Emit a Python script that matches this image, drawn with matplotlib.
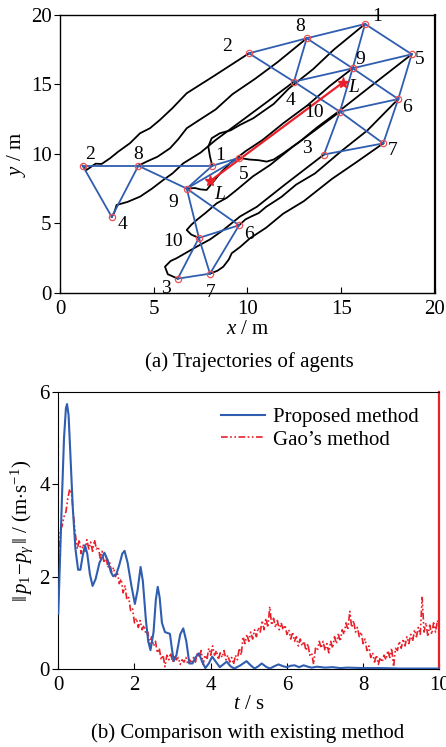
import numpy as np
import matplotlib
matplotlib.use("Agg")
import matplotlib.pyplot as plt

plt.rcParams['font.family'] = ['Liberation Serif', 'DejaVu Serif']
plt.rcParams['mathtext.fontset'] = 'custom'
plt.rcParams['mathtext.rm'] = 'Liberation Serif'
plt.rcParams['mathtext.it'] = 'Liberation Serif:italic'
plt.rcParams['mathtext.cal'] = 'Liberation Serif:italic'

# ---------------- data: top panel ----------------
agents = ['1', '2', '3', '4', '5', '6', '7', '8', '9', '10']
init_x = [8.12, 1.21, 6.28, 2.76, 9.56, 9.55, 8.00, 4.18, 6.76, 7.41]
init_y = [9.15, 9.15, 1.03, 5.47, 9.72, 4.87, 1.39, 9.15, 7.51, 3.96]
final_x = [16.27, 10.08, 14.08, 12.48, 18.76, 18.04, 17.24, 13.16, 15.61, 14.93]
final_y = [19.35, 17.24, 9.96, 15.20, 17.17, 13.95, 10.76, 18.32, 16.16, 13.04]
leader_x = [8.00, 15.08]
leader_y = [8.04, 15.13]

edges_init = [(2, 8), (8, 1), (1, 5), (2, 4), (4, 8), (8, 9), (9, 1), (9, 5),
              (9, 6), (9, 10), (10, 7), (10, 6), (10, 3), (3, 7), (6, 7)]
edges_final = [(2, 8), (8, 1), (1, 5), (8, 4), (2, 4), (4, 10), (10, 7), (8, 9),
               (9, 6), (4, 9), (9, 5), (1, 9), (9, 10), (10, 3), (10, 6), (6, 5),
               (6, 7), (3, 7)]

# intermediate trajectory waypoints (between initial and final positions)
traj_x = {
    '1': [8.00, 7.91, 8.09, 8.53, 9.10, 9.60, 10.31, 11.4, 12.2, 13.5, 14.6],
    '2': [1.42, 1.90, 2.22, 2.67, 3.11, 3.73, 4.27, 4.80, 5.33, 6.00, 6.76, 8.2],
    '3': [5.75, 5.60, 5.90, 6.22, 6.80, 7.29, 8.00, 8.71, 9.6, 10.5, 12.0],
    '4': [2.90, 3.02, 3.60, 4.27, 4.90, 5.51, 6.00, 6.58, 7.5, 8.3, 9.6, 11.0],
    '5': [10.10, 10.60, 11.02, 11.40, 11.91, 12.8, 13.7, 15.0, 16.6],
    '6': [9.90, 10.20, 10.60, 11.00, 11.80, 12.6, 13.6, 15.0, 16.4],
    '7': [8.40, 8.71, 9.00, 9.16, 9.60, 10.13, 11.0, 11.9, 13.0, 14.5, 15.8],
    '8': [4.62, 5.20, 5.87, 6.30, 6.76, 7.29, 8.3, 9.2, 10.4, 11.6],
    '9': [7.20, 7.50, 7.82, 8.18, 8.60, 9.07, 9.9, 10.8, 11.9, 13.2, 14.4],
    '10': [7.00, 6.76, 7.00, 7.29, 7.80, 8.36, 8.90, 9.42, 10.3, 11.2, 12.4, 13.6],
}
traj_y = {
    '1': [9.81, 10.53, 11.13, 11.49, 11.70, 12.09, 12.57, 13.6, 14.7, 16.1, 17.5],
    '2': [8.85, 9.30, 9.28, 9.69, 10.17, 10.77, 11.49, 11.85, 12.45, 13.3, 14.37, 15.6],
    '3': [1.35, 1.89, 2.30, 2.50, 2.95, 3.33, 3.85, 4.53, 5.5, 6.2, 7.8],
    '4': [5.80, 6.33, 6.55, 6.93, 7.50, 8.13, 8.60, 9.33, 10.1, 11.0, 12.3, 13.7],
    '5': [9.60, 9.55, 9.45, 9.60, 10.05, 10.9, 11.9, 13.2, 14.9],
    '6': [5.30, 5.50, 5.75, 6.20, 6.90, 7.8, 8.6, 10.2, 11.7],
    '7': [1.60, 1.89, 2.40, 2.86, 3.30, 3.93, 4.7, 5.7, 6.6, 8.2, 9.4],
    '8': [9.45, 9.80, 10.41, 11.05, 11.85, 12.32, 13.2, 14.3, 15.4, 16.6],
    '9': [7.55, 7.45, 7.41, 8.01, 8.70, 9.33, 10.2, 11.0, 12.2, 13.5, 14.9],
    '10': [4.20, 4.53, 4.90, 5.25, 5.80, 6.45, 6.85, 7.41, 8.4, 9.2, 10.5, 11.7],
}

# ---------------- data: bottom panel ----------------
t_prop = [0.00, 0.05, 0.10, 0.15, 0.20, 0.23, 0.27, 0.32, 0.38, 0.45, 0.52, 0.58,
          0.64, 0.70, 0.76, 0.83, 0.90, 0.98, 1.08, 1.21, 1.30, 1.38, 1.44, 1.52,
          1.60, 1.68, 1.74, 1.82, 1.92, 2.01, 2.08, 2.16, 2.22, 2.30, 2.36, 2.42,
          2.50, 2.56, 2.61, 2.66, 2.72, 2.80, 2.87, 2.93, 2.98, 3.03, 3.10, 3.20,
          3.28, 3.36, 3.44, 3.52, 3.60, 3.69, 3.78, 3.86, 3.95, 4.04, 4.14, 4.24,
          4.33, 4.42, 4.52, 4.62, 4.78, 4.94, 5.05, 5.15, 5.25, 5.34, 5.45, 5.55,
          5.67, 5.78, 5.90, 6.00, 6.10, 6.20, 6.32, 6.44, 6.55, 6.65, 6.79, 7.00,
          7.20, 7.40, 7.60, 8.00, 8.50, 9.00, 9.50, 10.00]
v_prop = [1.20, 2.50, 3.80, 5.00, 5.65, 5.74, 5.50, 4.60, 3.50, 2.60, 2.15, 2.15,
          2.45, 2.68, 2.50, 2.05, 1.80, 1.95, 2.30, 2.52, 2.35, 2.10, 2.01, 2.05,
          2.25, 2.50, 2.56, 2.30, 1.80, 1.41, 1.70, 2.21, 1.90, 1.05, 0.60, 0.41,
          0.80, 1.50, 1.78, 1.55, 1.00, 0.80, 0.78, 0.76, 0.45, 0.17, 0.30, 0.75,
          0.88, 0.60, 0.12, 0.12, 0.25, 0.34, 0.15, 0.02, 0.12, 0.27, 0.15, 0.04,
          0.10, 0.16, 0.06, 0.01, 0.08, 0.17, 0.08, 0.01, 0.06, 0.12, 0.05, 0.01,
          0.06, 0.10, 0.06, 0.04, 0.07, 0.08, 0.04, 0.08, 0.05, 0.03, 0.05, 0.03,
          0.04, 0.02, 0.03, 0.02, 0.02, 0.01, 0.01, 0.01]

v_gao = [1.5, 3.0, 3.1, 3.3, 3.4, 3.7, 3.9, 3.8, 3.3, 2.9,
         2.6, 2.8, 2.5, 2.7, 2.55, 2.8, 2.6, 2.75, 2.55, 2.8,
         2.6, 2.65, 2.4, 2.55, 2.3, 2.45, 2.2, 2.3, 2.1, 2.2,
         2.0, 2.1, 1.85, 1.95, 1.65, 1.8, 1.5, 1.55, 1.25, 1.3,
         1.0, 1.1, 0.9, 1.05, 0.85, 0.95, 0.75, 0.8, 0.55, 0.7,
         0.5, 0.6, 0.35, 0.45, 0.2, 0.3, 0.05, 0.3, 0.2, 0.35,
         0.15, 0.3, 0.2, 0.25, 0.1, 0.2, 0.15, 0.25, 0.1, 0.2,
         0.12, 0.25, 0.15, 0.35, 0.25, 0.4, 0.1, 0.3, 0.2, 0.45,
         0.3, 0.5, 0.3, 0.4, 0.2, 0.35, 0.25, 0.4, 0.2, 0.3,
         0.15, 0.25, 0.1, 0.3, 0.2, 0.45, 0.3, 0.7, 0.55, 0.75,
         0.6, 0.8, 0.65, 0.85, 0.7, 0.9, 0.8, 1.05, 0.85, 1.1,
         0.9, 1.35, 0.95, 1.1, 0.9, 1.05, 0.85, 1.0, 0.85, 0.95,
         0.75, 0.85, 0.65, 0.8, 0.6, 0.7, 0.5, 0.65, 0.5, 0.6,
         0.4, 0.55, 0.3, 0.35, 0.1, 0.45, 0.4, 0.6, 0.45, 0.6,
         0.4, 0.55, 0.35, 0.6, 0.45, 0.7, 0.55, 0.75, 0.6, 0.85,
         0.75, 1.0, 0.85, 1.25, 0.9, 1.05, 0.8, 0.9, 0.7, 0.8,
         0.55, 0.65, 0.4, 0.5, 0.25, 0.35, 0.15, 0.3, 0.1, 0.25,
         0.15, 0.3, 0.2, 0.4, 0.25, 0.45, 0.05, 0.45, 0.4, 0.6,
         0.45, 0.65, 0.5, 0.7, 0.55, 0.75, 0.6, 0.85, 0.7, 0.9,
         0.75, 1.55, 0.8, 1.0, 0.7, 0.95, 0.75, 1.0, 0.8, 1.05,
         0.9]
t_gao = np.linspace(0, 10, len(v_gao))

legend_labels = ['Proposed method', 'Gao\u2019s method']

# ---------------- figure ----------------
FS = 15
blue = '#2f5db0'
red = '#e8202a'
fig = plt.figure(figsize=(4.46, 7.47), dpi=100)
ax1 = fig.add_axes([0.1345, 0.6078, 0.8408, 0.3722])
ax2 = fig.add_axes([0.1307, 0.1044, 0.8543, 0.3708])

idx = {a: i for i, a in enumerate(agents)}

# trajectories
for a in agents:
    i = idx[a]
    xs = [init_x[i]] + traj_x[a] + [final_x[i]]
    ys = [init_y[i]] + traj_y[a] + [final_y[i]]
    ax1.plot(xs, ys, color='black', lw=1.3, zorder=2)

# formation edges
for (p, q) in edges_init:
    i, j = idx[str(p)], idx[str(q)]
    ax1.plot([init_x[i], init_x[j]], [init_y[i], init_y[j]], color=blue, lw=1.3, zorder=3)
for (p, q) in edges_final:
    i, j = idx[str(p)], idx[str(q)]
    ax1.plot([final_x[i], final_x[j]], [final_y[i], final_y[j]], color=blue, lw=1.3, zorder=3)

# leader
ax1.plot(leader_x, leader_y, color=red, lw=1.6, zorder=4)
ax1.plot(leader_x, leader_y, ls='none', marker='*', color=red, ms=8, zorder=5)

# agent markers
ax1.plot(init_x + final_x, init_y + final_y, ls='none', marker='o', ms=4.5,
         mfc='none', mec='#f05050', mew=0.9, zorder=6)

# labels (offsets in points)
init_off = {'1': (2, 4), '2': (2, 5), '3': (-12, -10), '4': (4, -9), '5': (0, -15),
            '6': (4, -10), '7': (-3, -17), '8': (-4, 5), '9': (-13, -13), '10': (-26, -6)}
final_off = {'1': (5, 2), '2': (-19, 2), '3': (-16, 1), '4': (-6, -17), '5': (2, -7),
             '6': (3, -9), '7': (3, -8), '8': (-8, 5), '9': (2, 3), '10': (-26, -4)}
for a in agents:
    i = idx[a]
    ax1.annotate(a, (init_x[i], init_y[i]), xytext=init_off[a], textcoords='offset points',
                 fontsize=14, zorder=7)
    ax1.annotate(a, (final_x[i], final_y[i]), xytext=final_off[a], textcoords='offset points',
                 fontsize=14, zorder=7)
ax1.annotate('$L$', (leader_x[0], leader_y[0]), xytext=(3, -13), textcoords='offset points', fontsize=14)
ax1.annotate('$L$', (leader_x[1], leader_y[1]), xytext=(4, -7), textcoords='offset points', fontsize=14)

ax1.set_xlim(0, 20)
ax1.set_ylim(0, 20)
ax1.set_xticks([0, 5, 10, 15, 20])
ax1.set_yticks([0, 5, 10, 15, 20])
ax1.tick_params(axis='x', direction='in', length=4, labelsize=FS, pad=5)
ax1.tick_params(axis='y', direction='out', length=4, labelsize=FS, pad=2)
ax1.set_xlabel('$x$ / m', fontsize=FS, labelpad=1)
ax1.set_ylabel('$y$ / m', fontsize=FS, labelpad=2)
for s in ax1.spines.values():
    s.set_linewidth(1.0)
ax1.spines['right'].set_linewidth(1.6)
fig.text(0.56, 1 - 362 / 747, '(a) Trajectories of agents', ha='center', va='center', fontsize=FS)

# bottom panel
ax2.plot(t_prop, v_prop, color=blue, lw=1.5, label=legend_labels[0], zorder=3)
ax2.plot(t_gao, v_gao, color=red, lw=1.2, ls=(0, (4, 1.5, 1, 1.5, 1, 1.5)),
         label=legend_labels[1], zorder=2)
ax2.set_xlim(0, 10)
ax2.set_ylim(0, 6)
ax2.set_xticks([0, 2, 4, 6, 8, 10])
ax2.set_yticks([0, 2, 4, 6])
ax2.tick_params(axis='x', direction='in', length=4, labelsize=FS, pad=5)
ax2.tick_params(axis='y', direction='out', length=4, labelsize=FS, pad=2)
ax2.set_xlabel('$t$ / s', fontsize=FS, labelpad=0)
ax2.set_ylabel(r'$\|\,p_1\!-\!p_\gamma\,\|$ / (m$\cdot$s$^{-1}$)', fontsize=FS, labelpad=3)
ax2.spines['right'].set_color(red)
ax2.spines['right'].set_linewidth(1.6)
leg = ax2.legend(loc='upper right', frameon=False, fontsize=FS, handlelength=2.1,
                 borderaxespad=0.2, labelspacing=0.15, handletextpad=0.4,
                 bbox_to_anchor=(0.98, 0.99))
fig.text(0.556, 1 - 733 / 747, '(b) Comparison with existing method', ha='center', va='center', fontsize=FS)

fig.savefig('out.png', dpi=100)
